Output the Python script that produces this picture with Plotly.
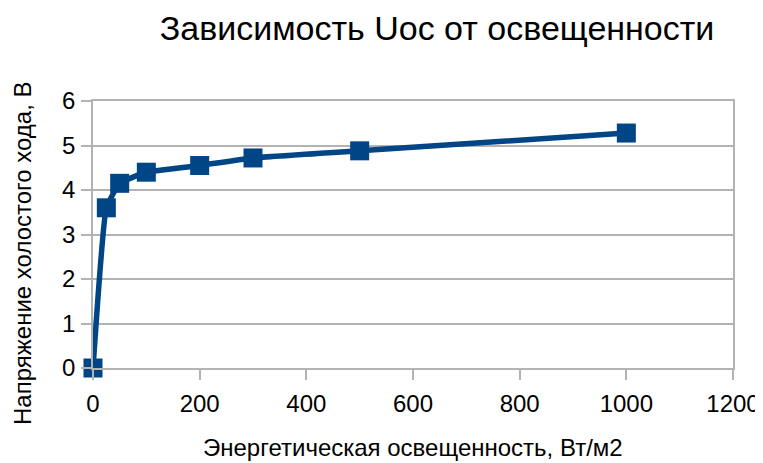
import plotly.graph_objects as go

irradiance = [0, 25, 50, 100, 200, 300, 500, 1000]
uoc = [0, 3.6, 4.15, 4.4, 4.55, 4.72, 4.88, 5.28]

x_ticks = [0, 200, 400, 600, 800, 1000, 1200]
y_ticks = [0, 1, 2, 3, 4, 5, 6]

title_text = "Зависимость Uoc от освещенности"
x_title = "Энергетическая освещенность, Вт/м2"
y_title = "Напряжение холостого хода, В"

blue = "#004586"
grid = "#b3b3b3"
font = "Liberation Sans, Arial, sans-serif"

# page has an 8px body margin, so the figure is drawn 8px lower/right
OFF = 8
W, H = 763 - OFF, 463 - OFF

fig = go.Figure()
fig.add_trace(go.Scatter(
    x=irradiance, y=uoc, mode="lines+markers",
    line=dict(color=blue, width=5.5, shape="spline", smoothing=0.35),
    marker=dict(symbol="square", size=19, color=blue),
    showlegend=False, cliponaxis=False,
))

fig.update_layout(
    width=W, height=H,
    margin=dict(l=93 - OFF, r=30, t=101 - OFF, b=95, autoexpand=False),
    paper_bgcolor="white", plot_bgcolor="white",
    font=dict(family=font, color="black", size=24),
    title=dict(text=title_text, x=(437 - OFF) / W, xanchor="center",
               y=1 - (28 - OFF) / H, yanchor="middle",
               font=dict(size=34, family=font, color="black")),
    xaxis=dict(
        range=[0, 1200], tickvals=x_ticks, ticktext=[str(v) for v in x_ticks],
        showgrid=False, zeroline=False, showline=True, linecolor=grid, linewidth=1.5,
        mirror=True, ticks="outside", ticklen=10, tickcolor=grid, tickwidth=1.5,
        tickfont=dict(size=24), automargin=False, ticklabelstandoff=3,
    ),
    yaxis=dict(
        range=[0, 6], tickvals=y_ticks,
        showgrid=True, gridcolor=grid, gridwidth=1.5, zeroline=False,
        showline=True, linecolor=grid, linewidth=1.5, mirror=True,
        ticks="outside", ticklen=10, tickcolor=grid, tickwidth=1.5,
        tickfont=dict(size=24), automargin=False, ticklabelstandoff=1,
    ),
    annotations=[
        dict(text=x_title, xref="paper", yref="paper", x=0.5, y=-79 / 267,
             xanchor="center", yanchor="middle", showarrow=False,
             font=dict(size=24, family=font, color="black")),
        dict(text=y_title, xref="paper", yref="paper", x=(22 - 93) / 640,
             y=(368 - 253) / 267, xanchor="center", yanchor="middle", textangle=-90,
             showarrow=False, font=dict(size=24, family=font, color="black")),
    ],
)

fig.write_html("out.html")
